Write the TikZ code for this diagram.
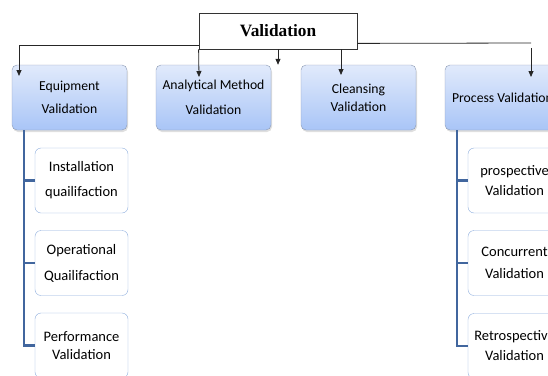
\documentclass[tikz,border=0pt]{standalone}
\usepackage{fontspec}
\setmainfont{Carlito}
\newfontfamily\titlefont{Liberation Serif}
\usetikzlibrary{arrows.meta,shadows}
\definecolor{boxtop}{HTML}{E1EAFB}
\definecolor{boxbottom}{HTML}{A9C5F7}
\definecolor{boxline}{HTML}{8C9AB4}
\definecolor{stemblue}{HTML}{41669E}
\definecolor{subline}{HTML}{8EAEDD}

\begin{document}
\begin{tikzpicture}[x=1pt,y=-1pt,
	mainbox/.style={draw=boxline,rounded corners=5pt,top color=boxtop,bottom color=boxbottom,minimum width=115pt,minimum height=65pt,inner sep=0,align=center,font=\fontsize{13.7}{16.5}\selectfont,drop shadow={opacity=0.25,shadow xshift=1pt,shadow yshift=-2pt}},
	subbox/.style={draw=subline,rounded corners=6pt,fill=white,minimum width=93pt,minimum height=65pt,inner sep=0,align=center,font=\fontsize{14.5}{17.4}\selectfont},
	arr/.style={draw=black!85,line width=0.8pt,-{Triangle[length=6pt,width=5pt]}},
	stem/.style={draw=stemblue,line width=2.5pt}]
	\useasboundingbox (0,0) rectangle (548,375);
	\clip (0,0) rectangle (548,375);
	\node[draw=black!80,line width=0.8pt,fill=white,minimum width=158pt,minimum height=36pt,inner sep=0,font=\titlefont\bfseries\fontsize{17.3}{20}\selectfont] (title) at (278,31) {Validation};
	\node[mainbox] (equip) at (69.5,97.5) {Equipment\\[6.5pt]Validation};
	\node[mainbox] (analyt) at (213.5,97.5) {Analytical Method\\[8.5pt]Validation};
	\node[mainbox] (cleans) at (358.5,97.5) {Cleansing\\[1.5pt]Validation};
	\node[mainbox] (process) at (502.5,97.5) {Process Validation};
	\node[subbox] (inst) at (81.5,180.5) {Installation\\[7.6pt]quailifaction};
	\node[subbox] (oper) at (81.5,263) {Operational\\[8.6pt]Quailifaction};
	\node[subbox] (perf) at (81.5,345.5) {Performance\\[0.6pt]Validation};
	\node[subbox] (prosp) at (514.5,180.5) {prospective\\[2.6pt]Validation};
	\node[subbox] (concur) at (514.5,263) {Concurrent\\[4.6pt]Validation};
	\node[subbox] (retro) at (514.5,346) {Retrospective\\[2.6pt]Validation};
	\coordinate (eqtip) at (19,76);
	\coordinate (antip) at (199,77);
	\coordinate (cltip) at (341,75);
	\coordinate (prturn) at (531,43);
	\coordinate (prstart) at (531,48);
	\coordinate (prtip) at (531,77);
	\coordinate (eqstem) at (24,130);
	\coordinate (prstem) at (457,130);
	\draw[arr] ([yshift=4pt]title.south west) -| (eqtip);
	\draw[arr] (title.south west) -- (antip);
	\draw[arr] (title.south) -- (title.south |- analyt.north);
	\draw[arr] (title.south -| cltip) -- (cltip);
	\draw[draw=black!85,line width=0.8pt] ([yshift=6pt]title.south east) -- (prturn);
	\draw[arr] (prstart) -- (prtip);
	\draw[stem] (eqstem) |- (perf.west);
	\draw[stem] (eqstem |- inst.west) -- (inst.west);
	\draw[stem] (eqstem |- oper.west) -- (oper.west);
	\draw[stem] (prstem) |- (retro.west);
	\draw[stem] (prstem |- prosp.west) -- (prosp.west);
	\draw[stem] (prstem |- concur.west) -- (concur.west);
\end{tikzpicture}
\end{document}
